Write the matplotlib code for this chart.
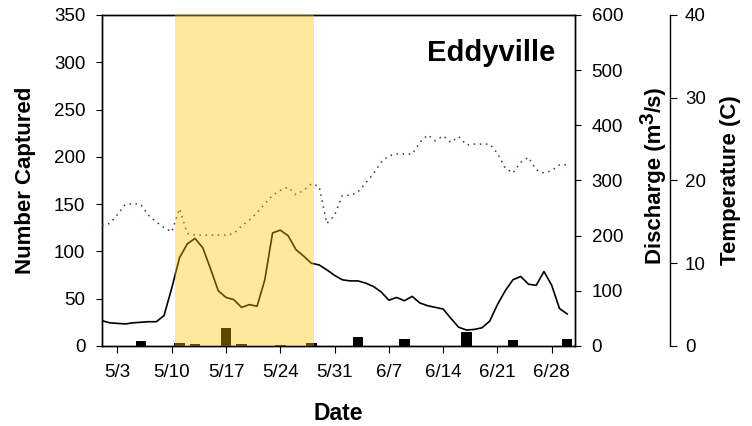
import matplotlib
matplotlib.use("Agg")
import matplotlib.pyplot as plt
import numpy as np
import pandas as pd

plt.rcParams.update({
    "font.family": ["Liberation Sans", "DejaVu Sans"],
    "font.size": 13,
    "axes.linewidth": 1.0,
})

# ── Datos (día 0 = 1 de mayo) ───────────────────────────────────────────────
START = pd.Timestamp("2000-05-01")

bar_days   = [5, 10, 12, 16, 18, 23, 27, 33, 39, 47, 53, 60]
bar_counts = [5, 3, 2, 19, 2, 1, 3, 10, 7, 15, 6, 7]

days = list(range(61))
discharge = [46, 42, 41, 40, 42, 43, 44, 44, 55, 105,
             160, 185, 195, 178, 140, 100, 88, 84, 70, 75,
             72, 120, 205, 210, 200, 175, 163, 150, 147, 138,
             128, 120, 118, 118, 114, 108, 98, 83, 88, 82,
             90, 78, 73, 70, 67, 50, 34, 29, 30, 33,
             45, 75, 100, 120, 126, 112, 110, 135, 110, 68,
             58]
temperature = [14.6, 14.8, 15.9, 17.1, 17.2, 17.1, 15.8, 15.0, 14.3, 13.8,
               16.6, 13.6, 13.4, 13.4, 13.4, 13.4, 13.4, 13.6, 14.5, 15.2,
               16.1, 17.2, 18.2, 18.8, 19.2, 18.3, 18.8, 19.6, 19.3, 14.8,
               15.8, 18.2, 18.2, 18.6, 19.7, 20.8, 22.2, 23.0, 23.2, 23.2,
               23.2, 24.6, 25.5, 24.8, 25.4, 24.6, 25.3, 24.3, 24.4, 24.4,
               24.4, 23.3, 21.5, 20.9, 22.2, 22.8, 21.3, 20.9, 21.2, 21.9,
               21.9]

shade_start, shade_end = 9.4, 27.3
tick_days = list(range(2, 59, 7))
tick_labels = [f"{d.month}/{d.day}" for d in (START + pd.to_timedelta(tick_days, unit="D"))]

# ── Figura ─────────────────────────────────────────────────────────────────
W, H = 752, 426
fig = plt.figure(figsize=(W / 100, H / 100), dpi=100)
ax = fig.add_axes([0.1356, 0.1878, 0.629, 0.777])

ax.bar(bar_days, bar_counts, width=1.35, color="black", zorder=2)
ax.set_xlim(0, 61)
ax.set_ylim(0, 350)
ax.set_yticks(range(0, 351, 50))
ax.set_xticks(tick_days)
ax.set_xticklabels(tick_labels)
ax.tick_params(axis="x", length=5, pad=8, labelsize=13.5)
ax.tick_params(axis="y", length=4, pad=8, labelsize=13.5)
ax.set_ylabel("Number Captured", fontsize=16, fontweight="bold", labelpad=13)
ax.set_xlabel("Date", fontsize=16.5, fontweight="bold", labelpad=15)

ax2 = ax.twinx()
ax2.plot(days, discharge, color="black", linewidth=1.2)
ax2.set_ylim(0, 600)
ax2.set_yticks(range(0, 601, 100))
ax2.tick_params(axis="y", length=4, pad=8, labelsize=13.5)

ax3 = ax.twinx()
ax3.spines["right"].set_position(("axes", 1.2))
for s in ["top", "bottom", "left"]:
    ax3.spines[s].set_visible(False)
ax3.plot(days, temperature, color="#5a1f5a", linewidth=1.1, linestyle=(0, (1, 3)))
ax3.set_ylim(0, 40)
ax3.set_yticks(range(0, 41, 10))
ax3.tick_params(axis="y", length=5, pad=6, labelsize=13.5)
ax3.set_ylabel("Temperature (C)", fontsize=16, fontweight="bold", labelpad=10)

ax3.axvspan(shade_start, shade_end, color="#FFC000", alpha=0.38, lw=0, zorder=5)

ax.text(0.822, 0.885, "Eddyville", transform=ax.transAxes, ha="center", va="center",
        fontsize=21, fontweight="bold")

# Etiqueta de caudal con superíndice grande, armada por partes
renderer = fig.canvas.get_renderer()
x_lab, y_pos = 655 / W, 1 - 264 / H
for txt, dx, fs in [("Discharge (m", 0, 16), ("3", -7, 15), ("/s)", 0, 16)]:
    t = fig.text(x_lab + dx / W, y_pos, txt, rotation=90, ha="center", va="bottom",
                 fontsize=fs, fontweight="bold")
    y_pos += t.get_window_extent(renderer).height / H

plt.savefig("out.png", dpi=100)
plt.close()
